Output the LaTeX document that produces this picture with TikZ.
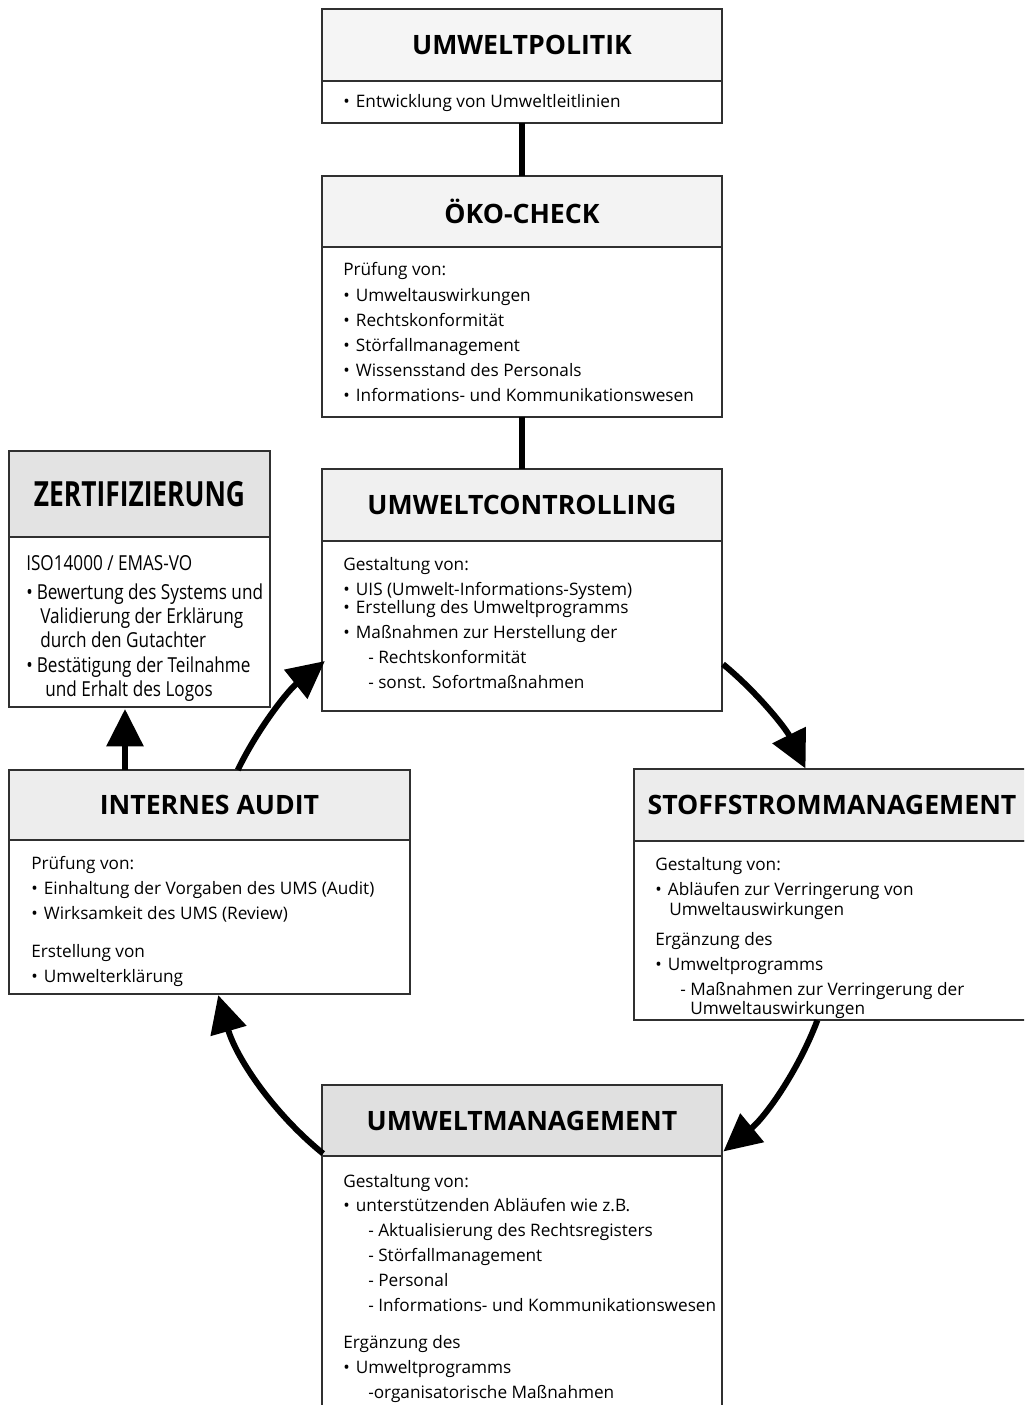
\documentclass[tikz,border=0pt]{standalone}
\usepackage{fontspec}
\setmainfont{Open Sans}
\newfontfamily\condfont[FakeStretch=0.76]{Open Sans}
\newfontfamily\condbody[FakeStretch=0.83]{Open Sans}
\usetikzlibrary{arrows.meta}
\definecolor{bordergray}{HTML}{303030}
\definecolor{cpol}{HTML}{F5F5F5}
\definecolor{coko}{HTML}{F3F3F3}
\definecolor{cctrl}{HTML}{F0F0F0}
\definecolor{caudit}{HTML}{EDEDED}
\definecolor{cstoff}{HTML}{ECECEC}
\definecolor{czert}{HTML}{E3E3E3}
\definecolor{cmgmt}{HTML}{E0E0E0}
\newcommand{\bul}{•\hspace{0.36em}}
\tikzset{
  hdr/.style={draw=bordergray, line width=1.1pt, inner sep=0pt, outer sep=0pt,
    font=\fontsize{20}{23}\selectfont\bfseries},
  bdy/.style={draw=bordergray, line width=1.1pt, fill=white, inner sep=0pt, outer sep=0pt},
  txt/.style={anchor=base west, inner sep=0pt, font=\fontsize{12.9}{15}\selectfont},
  ztxt/.style={anchor=base west, inner sep=0pt, font=\condbody\fontsize{15.5}{18}\selectfont},
  conn/.style={line width=4.5pt},
  bigarrow/.style={line width=4.5pt, -{Triangle[length=28pt, width=27pt]}}
}
\begin{document}
\begin{tikzpicture}[x=0.75pt, y=-0.75pt]
\useasboundingbox (0,0) rectangle (1024,1405);
\fill[white] (0,0) rectangle (1024,1405);
\clip (0,0) rectangle (1024,1405);

% UMWELTPOLITIK
\node[hdr, fill=cpol, minimum width=300pt, minimum height=54pt] (polh) at (522,45) {UMWELTPOLITIK};
\node[bdy, minimum width=300pt, minimum height=31.5pt] (polb) at (522,102) {};
\node[txt] (pol1) at (343,108) {\bul Entwicklung von Umweltleitlinien};

% ÖKO-CHECK
\node[hdr, fill=coko, minimum width=300pt, minimum height=53.25pt] (okoh) at (522,211.5) {ÖKO-CHECK};
\node[bdy, minimum width=300pt, minimum height=127.5pt] (okob) at (522,332) {};
\node[txt] (oko1) at (343,276) {Prüfung von:};
\node[txt] (oko2) at (343,301) {\bul Umweltauswirkungen};
\node[txt] (oko3) at (343,326) {\bul Rechtskonformität};
\node[txt] (oko4) at (343,351) {\bul Störfallmanagement};
\node[txt] (oko5) at (343,376) {\bul Wissensstand des Personals};
\node[txt] (oko6) at (343,401) {\bul Informations- und Kommunikationswesen};

% UMWELTCONTROLLING
\node[hdr, fill=cctrl, minimum width=300pt, minimum height=54pt] (ctrlh) at (522,505) {UMWELTCONTROLLING};
\node[bdy, minimum width=300pt, minimum height=127.5pt] (ctrlb) at (522,626) {};
\node[txt] (ctrl1) at (343,570) {Gestaltung von:};
\node[txt] (ctrl2) at (343,595) {\bul UIS (Umwelt-Informations-System)};
\node[txt] (ctrl3) at (343,613) {\bul Erstellung des Umweltprogramms};
\node[txt] (ctrl4) at (343,638) {\bul Maßnahmen zur Herstellung der};
\node[txt] (ctrl5) at (368,663) {- Rechtskonformität};
\node[txt] (ctrl6) at (368,688) {- sonst. Sofortmaßnahmen};

% ZERTIFIZIERUNG
\node[hdr, fill=czert, minimum width=195.75pt, minimum height=64.5pt,
  font=\condfont\fontsize{26}{30}\selectfont\bfseries] (zerth) at (139.5,494) {ZERTIFIZIERUNG};
\node[bdy, minimum width=195.75pt, minimum height=127.5pt] (zertb) at (139.5,622) {};
\node[ztxt] (zert1) at (26,570) {ISO14000 / EMAS-VO};
\node[ztxt] (zert2) at (26,599) {•\hspace{0.2em}Bewertung des Systems und};
\node[ztxt] (zert3) at (40,623) {Validierung der Erklärung};
\node[ztxt] (zert4) at (40,647) {durch den Gutachter};
\node[ztxt] (zert5) at (26,672) {•\hspace{0.2em}Bestätigung der Teilnahme};
\node[ztxt] (zert6) at (45,696) {und Erhalt des Logos};

% INTERNES AUDIT
\node[hdr, fill=caudit, minimum width=300.75pt, minimum height=52.5pt] (audh) at (209.5,805) {INTERNES AUDIT};
\node[bdy, minimum width=300.75pt, minimum height=115.5pt] (audb) at (209.5,917) {};
\node[txt] (aud1) at (31,869) {Prüfung von:};
\node[txt] (aud2) at (31,894) {\bul Einhaltung der Vorgaben des UMS (Audit)};
\node[txt] (aud3) at (31,919) {\bul Wirksamkeit des UMS (Review)};
\node[txt] (aud4) at (31,957) {Erstellung von};
\node[txt] (aud5) at (31,982) {\bul Umwelterklärung};

% STOFFSTROMMANAGEMENT
\node[hdr, fill=cstoff, minimum width=297pt, minimum height=54pt] (stoh) at (832,805) {STOFFSTROMMANAGEMENT};
\node[bdy, minimum width=297pt, minimum height=134.25pt] (stob) at (832,930.5) {};
\node[txt] (sto1) at (655,870) {Gestaltung von:};
\node[txt] (sto2) at (655,895) {\bul Abläufen zur Verringerung von};
\node[txt] (sto3) at (669,915) {Umweltauswirkungen};
\node[txt] (sto4) at (655,945) {Ergänzung des};
\node[txt] (sto5) at (655,970) {\bul Umweltprogramms};
\node[txt] (sto6) at (680,995) {- Maßnahmen zur Verringerung der};
\node[txt] (sto7) at (690,1014) {Umweltauswirkungen};

% UMWELTMANAGEMENT
\node[hdr, fill=cmgmt, minimum width=300pt, minimum height=53.25pt] (mgmh) at (522,1120.5) {UMWELTMANAGEMENT};
\node[bdy, minimum width=300pt, minimum height=198pt] (mgmb) at (522,1288) {};
\node[txt] (mgm1) at (343,1187) {Gestaltung von:};
\node[txt] (mgm2) at (343,1211) {\bul unterstützenden Abläufen wie z.B.};
\node[txt] (mgm3) at (368,1236) {- Aktualisierung des Rechtsregisters};
\node[txt] (mgm4) at (368,1261) {- Störfallmanagement};
\node[txt] (mgm5) at (368,1286) {- Personal};
\node[txt] (mgm6) at (368,1311) {- Informations- und Kommunikationswesen};
\node[txt] (mgm7) at (343,1348) {Ergänzung des};
\node[txt] (mgm8) at (343,1373) {\bul Umweltprogramms};
\node[txt] (mgm9) at (368,1398) {-organisatorische Maßnahmen};

% straight connectors
\draw[conn] (polb.south) -- (okoh.north);
\draw[conn] (okob.south) -- (ctrlh.north);
\coordinate (a5s) at (125,770);
\coordinate (a5e) at (125,709);
\draw[bigarrow] (a5s) -- (a5e);

% cycle arrows (arcs of one circle)
\coordinate (cc) at (522,908);
\path (cc) ++(-50.5:316) coordinate (a1s);
\path (cc) ++(20.8:316) coordinate (a2s);
\path (cc) ++(129:316) coordinate (a3s);
\path (cc) ++(205.9:316) coordinate (a4s);
\draw[bigarrow] (a1s) arc[start angle=-50.5, end angle=-26.2, radius=316];
\draw[bigarrow] (a2s) arc[start angle=20.8, end angle=50.4, radius=316];
\draw[bigarrow] (a3s) arc[start angle=129, end angle=164, radius=316];
\draw[bigarrow] (a4s) arc[start angle=205.9, end angle=231.4, radius=316];
\end{tikzpicture}
\end{document}
